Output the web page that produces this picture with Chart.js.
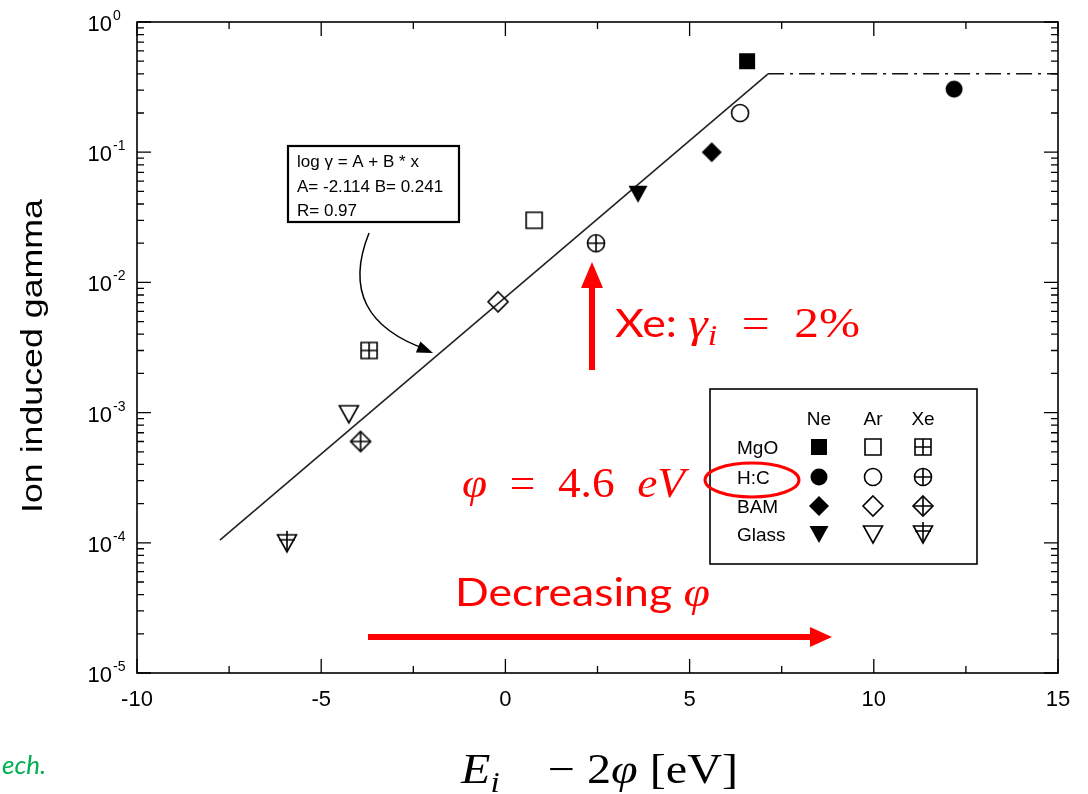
<!DOCTYPE html>
<html>
<head>
<meta charset="utf-8">
<script src="https://cdn.jsdelivr.net/npm/chart.js@4"></script>
<style>
  html, body { margin: 0; padding: 0; background: #fff; }
  canvas { display: block; }
</style>
</head>
<body>
<canvas id="gamma" width="1088" height="794"></canvas>
<script>
const materials = ['MgO', 'H:C', 'BAM', 'Glass'];
const gases = ['Ne', 'Ar', 'Xe'];

// x = Ei - 2phi [eV], y = ion induced gamma, one entry per material
const neX = [6.56, 12.18, 5.6, 3.6];
const neY = [0.50, 0.305, 0.10, 0.048];
const arX = [0.78, 6.37, -0.2, -4.25];
const arY = [0.030, 0.20, 0.0071, 0.00098];
const xeX = [-3.7, 2.46, -3.93, -5.93];
const xeY = [0.0030, 0.020, 0.0006, 0.0001];

// fitted line ends and the saturation level
const fitX = [-7.75, 7.13];
const fitY = [0.000105, 0.40];
const flatX = [7.13, 15];
const flatY = [0.40, 0.40];

const xTicks = [-10, -5, 0, 5, 10, 15];
const yExp = [0, -1, -2, -3, -4, -5];

const shapes = {'MgO': 'square', 'H:C': 'circle', 'BAM': 'diamond', 'Glass': 'triangle'};

function makeMarker(shape, gas) {
  const c = document.createElement('canvas');
  c.width = 26; c.height = 26;
  const g = c.getContext('2d');
  g.lineWidth = 1.6;
  g.strokeStyle = '#000';
  g.fillStyle = '#000';
  g.beginPath();
  if (shape === 'square') g.rect(5, 5, 16, 16);
  if (shape === 'circle') g.arc(13, 13, 8.5, 0, Math.PI * 2);
  if (shape === 'diamond') { g.moveTo(13, 3); g.lineTo(23, 13); g.lineTo(13, 23); g.lineTo(3, 13); g.closePath(); }
  if (shape === 'triangle') { g.moveTo(3.5, 5); g.lineTo(22.5, 5); g.lineTo(13, 22); g.closePath(); }
  if (gas === 'Ne') g.fill(); else g.stroke();
  if (gas === 'Xe') {
    g.beginPath();
    if (shape === 'square') { g.moveTo(13, 5); g.lineTo(13, 21); g.moveTo(5, 13); g.lineTo(21, 13); }
    if (shape === 'circle') { g.moveTo(13, 4.5); g.lineTo(13, 21.5); g.moveTo(4.5, 13); g.lineTo(21.5, 13); }
    if (shape === 'diamond') { g.moveTo(13, 3); g.lineTo(13, 23); g.moveTo(3, 13); g.lineTo(23, 13); }
    if (shape === 'triangle') { g.moveTo(13, 1); g.lineTo(13, 22); g.moveTo(5, 10); g.lineTo(21, 10); }
    g.stroke();
  }
  return c;
}

const markers = {};
gases.forEach(gas => materials.forEach(m => { markers[m + gas] = makeMarker(shapes[m], gas); }));

function pointSet(gas, xs, ys) {
  return {
    label: gas,
    data: xs.map((x, i) => ({x: x, y: ys[i]})),
    pointStyle: materials.map(m => markers[m + gas]),
    pointRadius: 9,
    showLine: false
  };
}

// draw a row of text runs, nudged to a given width
function runs(ctx, x, y, width, parts) {
  let total = 0;
  parts.forEach(p => { ctx.font = p.f; total += ctx.measureText(p.t).width; });
  ctx.save();
  ctx.translate(x, y);
  ctx.scale(width / total, 1);
  let cx = 0;
  parts.forEach(p => {
    ctx.font = p.f;
    ctx.fillText(p.t, cx, p.dy || 0);
    cx += ctx.measureText(p.t).width;
  });
  ctx.restore();
}

function arrowHead(ctx, tx, ty, angle, len, half) {
  ctx.save();
  ctx.translate(tx, ty);
  ctx.rotate(angle);
  ctx.beginPath();
  ctx.moveTo(0, 0);
  ctx.lineTo(-len, -half);
  ctx.lineTo(-len, half);
  ctx.closePath();
  ctx.fill();
  ctx.restore();
}

const decorations = {
  id: 'decorations',
  afterDraw(chart) {
    const ctx = chart.ctx;
    const a = chart.chartArea;
    const xs = chart.scales.x, ys = chart.scales.y;
    ctx.save();
    ctx.strokeStyle = '#000';
    ctx.fillStyle = '#000';

    // frame
    ctx.lineWidth = 1.6;
    ctx.strokeRect(a.left, a.top, a.right - a.left, a.bottom - a.top);

    // inward ticks
    ctx.lineWidth = 1.3;
    ctx.beginPath();
    for (let v = -10; v <= 15; v += 2.5) {
      const px = xs.getPixelForValue(v);
      const len = v % 5 === 0 ? 14 : 7;
      ctx.moveTo(px, a.bottom); ctx.lineTo(px, a.bottom - len);
      ctx.moveTo(px, a.top); ctx.lineTo(px, a.top + len);
    }
    for (let e = -5; e <= 0; e++) {
      for (let k = 1; k <= 9; k++) {
        if (e === 0 && k > 1) break;
        const py = ys.getPixelForValue(k * Math.pow(10, e));
        const len = k === 1 ? 14 : 7;
        ctx.moveTo(a.left, py); ctx.lineTo(a.left + len, py);
        ctx.moveTo(a.right, py); ctx.lineTo(a.right - len, py);
      }
    }
    ctx.stroke();

    // tick labels
    ctx.textAlign = 'center';
    ctx.textBaseline = 'alphabetic';
    ctx.font = '22px "Liberation Sans"';
    xTicks.forEach(v => ctx.fillText(String(v), xs.getPixelForValue(v), 706));
    yExp.forEach(e => {
      const py = ys.getPixelForValue(Math.pow(10, e));
      ctx.textAlign = 'right';
      ctx.font = '22px "Liberation Sans"';
      ctx.fillText('10', 112, py + 9);
      ctx.textAlign = 'left';
      ctx.font = '14px "Liberation Sans"';
      ctx.fillText(String(e), 113, py - 2);
    });

    // y title
    ctx.save();
    ctx.translate(42, 356);
    ctx.rotate(-Math.PI / 2);
    ctx.font = '29px "Liberation Sans"';
    const tw = ctx.measureText('Ion induced gamma').width;
    ctx.scale(314 / tw, 1);
    ctx.textAlign = 'center';
    ctx.fillText('Ion induced gamma', 0, 0);
    ctx.restore();

    // fit box
    ctx.textAlign = 'left';
    ctx.lineWidth = 2.2;
    ctx.strokeRect(288, 146, 171, 76);
    ctx.font = '17px "Liberation Sans"';
    ctx.fillText('log \u03b3 = A + B * x', 297, 167);
    ctx.fillText('A= -2.114 B= 0.241', 297, 192);
    ctx.fillText('R= 0.97', 297, 216);

    // curved arrow to the fit line
    ctx.lineWidth = 1.5;
    ctx.beginPath();
    ctx.moveTo(369, 233);
    ctx.quadraticCurveTo(335, 318, 428, 350);
    ctx.stroke();
    arrowHead(ctx, 433, 353, Math.atan2(350 - 318, 428 - 335) + 0.05, 16, 6);

    // legend box
    ctx.lineWidth = 1.6;
    ctx.strokeRect(710, 389, 267, 175);
    ctx.font = '19px "Liberation Sans"';
    const colX = [819, 873, 923];
    const rowY = [447, 477, 506, 534];
    ctx.textAlign = 'center';
    gases.forEach((g, i) => ctx.fillText(g, colX[i], 425));
    ctx.textAlign = 'left';
    materials.forEach((m, r) => {
      ctx.fillText(m, 737, rowY[r] + 7);
      gases.forEach((g, i) => ctx.drawImage(markers[m + g], colX[i] - 13, rowY[r] - 13));
    });

    // red annotations
    ctx.fillStyle = '#ff0000';
    ctx.strokeStyle = '#ff0000';
    ctx.lineWidth = 3;
    ctx.beginPath();
    ctx.ellipse(752, 480, 47, 17, 0, 0, Math.PI * 2);
    ctx.stroke();

    ctx.lineWidth = 6;
    ctx.beginPath();
    ctx.moveTo(592, 370); ctx.lineTo(592, 285);
    ctx.stroke();
    arrowHead(ctx, 592, 262, -Math.PI / 2, 26, 11);

    ctx.beginPath();
    ctx.moveTo(368, 637); ctx.lineTo(812, 637);
    ctx.stroke();
    arrowHead(ctx, 832, 637, 0, 22, 10);

    const serif = '"Liberation Serif"';
    runs(ctx, 615, 337, 245, [
      {t: 'Xe: ', f: '38px Lato'},
      {t: '\u03b3', f: 'italic 42px ' + serif},
      {t: 'i', f: 'italic 29px ' + serif, dy: 8},
      {t: '  =  2%', f: '42px ' + serif}
    ]);
    runs(ctx, 462, 497, 223, [
      {t: '\u03c6', f: 'italic 42px ' + serif},
      {t: '  =  4.6  ', f: '42px ' + serif},
      {t: 'eV', f: 'italic 42px ' + serif}
    ]);
    runs(ctx, 455, 606, 255, [
      {t: 'Decreasing ', f: '39px Lato'},
      {t: '\u03c6', f: 'italic 42px ' + serif}
    ]);

    // x title
    ctx.fillStyle = '#000';
    runs(ctx, 461, 783, 277, [
      {t: 'E', f: 'italic 42px ' + serif},
      {t: 'i', f: 'italic 29px ' + serif, dy: 9},
      {t: '    \u2212 2', f: '42px ' + serif},
      {t: '\u03c6', f: 'italic 42px ' + serif},
      {t: ' [eV]', f: '42px ' + serif}
    ]);

    // cropped caption on the left edge
    ctx.fillStyle = '#00b050';
    ctx.font = 'italic 26px Lato';
    ctx.fillText('ech.', 2, 774);
    ctx.restore();
  }
};

new Chart(document.getElementById('gamma'), {
  type: 'scatter',
  data: {
    datasets: [
      pointSet('Ne', neX, neY),
      pointSet('Ar', arX, arY),
      pointSet('Xe', xeX, xeY),
      {
        label: 'fit',
        data: fitX.map((x, i) => ({x: x, y: fitY[i]})),
        showLine: true,
        borderColor: '#222',
        borderWidth: 1.6,
        pointRadius: 0
      },
      {
        label: 'saturation',
        data: flatX.map((x, i) => ({x: x, y: flatY[i]})),
        showLine: true,
        borderColor: '#111',
        borderWidth: 1.6,
        borderDash: [16, 6, 3, 6],
        pointRadius: 0
      }
    ]
  },
  options: {
    responsive: false,
    animation: false,
    devicePixelRatio: 1,
    layout: {padding: {left: 137, right: 30, top: 22, bottom: 121}},
    scales: {
      x: {
        type: 'linear', min: -10, max: 15,
        ticks: {display: false}, grid: {display: false}, border: {display: false},
        afterFit: s => { s.height = 0; }
      },
      y: {
        type: 'logarithmic', min: 1e-5, max: 1,
        ticks: {display: false}, grid: {display: false}, border: {display: false},
        afterFit: s => { s.width = 0; }
      }
    },
    plugins: {
      legend: {display: false},
      tooltip: {enabled: false}
    }
  },
  plugins: [decorations]
});
</script>
</body>
</html>
